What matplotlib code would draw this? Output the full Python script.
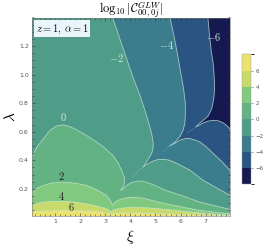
import matplotlib
matplotlib.use("Agg")
import matplotlib.pyplot as plt
from matplotlib.cm import ScalarMappable
from matplotlib.colors import BoundaryNorm, ListedColormap
from matplotlib.ticker import MultipleLocator

plt.rcParams["mathtext.fontset"] = "cm"
plt.rcParams["font.family"] = ["DejaVu Serif"]

# contour lines, (xi, lambda)
xi_m6 = [7.09, 7.15, 7.22, 7.30, 7.33, 7.35, 7.35, 7.33, 7.29, 7.24, 7.10, 6.97, 6.80, 6.61, 6.75, 6.90, 7.10, 7.30, 7.50, 7.70, 7.85, 7.97]
la_m6 = [1.40, 1.28, 1.17, 1.08, 1.016, 0.95, 0.89, 0.84, 0.80, 0.76, 0.71, 0.69, 0.665, 0.634, 0.645, 0.662, 0.675, 0.68, 0.677, 0.662, 0.642, 0.622]
xi_m4 = [5.58, 5.75, 5.90, 6.02, 6.12, 6.19, 6.19, 6.17, 6.10, 5.98, 5.80, 5.55, 5.78, 5.98, 6.18, 6.37, 6.60, 6.77, 7.05, 7.30, 7.65, 7.97]
la_m4 = [1.40, 1.26, 1.121, 1.00, 0.90, 0.80, 0.72, 0.657, 0.61, 0.568, 0.53, 0.499, 0.52, 0.541, 0.552, 0.552, 0.54, 0.529, 0.49, 0.448, 0.39, 0.33]
xi_m2 = [3.29, 3.70, 4.09, 4.35, 4.58, 4.70, 4.78, 4.86, 4.91, 4.90, 4.85, 4.72, 4.51, 4.68, 4.91, 5.10, 5.31, 5.50, 5.71, 6.00, 6.37, 6.89, 7.40, 7.97]
la_m2 = [1.40, 1.19, 0.988, 0.87, 0.75, 0.68, 0.631, 0.575, 0.52, 0.48, 0.45, 0.41, 0.354, 0.375, 0.395, 0.405, 0.406, 0.403, 0.39, 0.365, 0.331, 0.261, 0.21, 0.154]
xi_0 = [0.05, 0.15, 0.30, 0.53, 0.80, 1.05, 1.33, 1.60, 1.90, 2.26, 2.60, 2.95, 3.30, 3.50, 3.65, 3.76, 3.76, 3.70, 3.61, 3.72, 3.85, 4.05, 4.30, 4.50, 4.90, 5.40, 6.10, 6.76, 7.40, 7.97]
la_0 = [0.40, 0.45, 0.50, 0.55, 0.61, 0.64, 0.648, 0.635, 0.61, 0.573, 0.535, 0.49, 0.435, 0.385, 0.33, 0.28, 0.24, 0.21, 0.189, 0.20, 0.225, 0.245, 0.254, 0.254, 0.23, 0.19, 0.15, 0.107, 0.08, 0.056]
xi_2 = [0.05, 0.25, 0.53, 0.90, 1.33, 1.80, 2.26, 2.70, 3.05, 3.18, 3.28, 3.35, 3.45, 3.60, 3.85, 4.10, 4.50, 5.42, 6.76, 7.97]
la_2 = [0.165, 0.20, 0.224, 0.242, 0.247, 0.24, 0.224, 0.19, 0.154, 0.125, 0.088, 0.10, 0.115, 0.126, 0.138, 0.142, 0.135, 0.095, 0.049, 0.025]
xi_4 = [0.05, 0.25, 0.53, 0.90, 1.33, 1.80, 2.26, 2.70, 3.05, 3.15, 3.21, 3.30, 3.39, 3.70, 4.10, 4.70, 5.42, 6.10, 6.76, 7.97]
la_4 = [0.084, 0.097, 0.107, 0.112, 0.112, 0.107, 0.095, 0.078, 0.06, 0.05, 0.037, 0.05, 0.056, 0.066, 0.072, 0.067, 0.056, 0.043, 0.032, 0.015]
xi_6 = [0.05, 1.33, 2.66, 3.20, 3.40, 4.10, 5.42, 6.76, 7.97]
la_6 = [0.042, 0.049, 0.042, 0.025, 0.03, 0.032, 0.024, 0.016, 0.012]

levels = [-8, -6, -4, -2, 0, 2, 4, 6, 8]
band_colors = ["#141a50", "#2a5582", "#3b7d8c", "#4f9c88", "#62b284", "#80c97e", "#c9da6c", "#ece26e"]
cb_ticks = [-6, -4, -2, 0, 2, 4, 6]

# faint dotted bits going out of the cusps
spur_xi = [[4.51, 4.05], [5.55, 5.30], [6.61, 6.25]]
spur_la = [[0.354, 0.28], [0.499, 0.46], [0.634, 0.59]]

xmin, xmax = 0.06, 7.97
ymin, ymax = 0.01, 1.40

fig = plt.figure(figsize=(2.66, 2.47), dpi=100)
W, H = 266, 247
ax = fig.add_axes([31.5 / W, 1 - 216 / H, 198.5 / W, 198.5 / H])
ax.set_xlim(xmin, xmax)
ax.set_ylim(ymin, ymax)
ax.set_facecolor(band_colors[0])

line_c = (0.80, 0.90, 0.84, 0.75)
for i, (xs, ys) in enumerate([(xi_m6, la_m6), (xi_m4, la_m4), (xi_m2, la_m2)]):
    ax.fill(xs + [xmax + 1, xmin - 1, xmin - 1], ys + [ymin - 1, ymin - 1, ymax + 1],
            fc=band_colors[i + 1], ec=line_c, lw=0.6, joinstyle="round")
for i, (xs, ys) in enumerate([(xi_0, la_0), (xi_2, la_2), (xi_4, la_4), (xi_6, la_6)]):
    ax.fill([xmin - 1] + xs + [xmax + 1, xmax + 1, xmin - 1], [ys[0]] + ys + [ys[-1], ymin - 1, ymin - 1],
            fc=band_colors[i + 4], ec=line_c, lw=0.6, joinstyle="round")
for xs, ys in zip(spur_xi, spur_la):
    ax.plot(xs, ys, color=line_c, lw=0.5, ls=":", alpha=0.7)

ax.text(1.33, 0.70, "$0$", color="#d5ecd8", fontsize=7.5, ha="center", va="center")
ax.text(3.45, 1.115, "$-2$", color="#d5ecd8", fontsize=7.5, ha="center", va="center")
ax.text(5.45, 1.21, "$-4$", color="#d5ecd8", fontsize=7.5, ha="center", va="center")
ax.text(7.30, 1.265, "$-6$", color="#d5ecd8", fontsize=7.5, ha="center", va="center")
ax.text(1.25, 0.29, "$2$", color="#222222", fontsize=7.5, ha="center", va="center")
ax.text(1.25, 0.15, "$4$", color="#222222", fontsize=7.5, ha="center", va="center")
ax.text(1.65, 0.075, "$6$", color="#222222", fontsize=7.5, ha="center", va="center")

ax.text(0.22, 1.32, r"$z=1,\,\alpha=1$", fontsize=7.5, color="#111111", va="center", ha="left",
        bbox=dict(fc="#eaf5fb", ec="none", pad=1.3))

ax.set_title(r"$\log_{10}|\mathcal{C}^{GLW}_{00,0j}|$", fontsize=9, y=1.0, pad=3.5)
ax.set_xlabel(r"$\xi$", fontsize=11, labelpad=3)
ax.set_ylabel(r"$\lambda$", fontsize=11, labelpad=1)

ax.set_xticks([1, 2, 3, 4, 5, 6, 7])
ax.set_yticks([0.2, 0.4, 0.6, 0.8, 1.0, 1.2])
ax.xaxis.set_minor_locator(MultipleLocator(0.2))
ax.yaxis.set_minor_locator(MultipleLocator(0.05))
ax.tick_params(which="both", direction="in", top=True, right=True, color="#333333", width=0.4)
ax.tick_params(which="major", length=2.5, labelsize=4.5, labelcolor="#555555", pad=2)
ax.tick_params(which="minor", length=1.2)
for lab in ax.get_xticklabels() + ax.get_yticklabels():
    lab.set_family("DejaVu Sans")
for s in ax.spines.values():
    s.set_linewidth(0.4)
    s.set_color("#777777")

cax = fig.add_axes([242.3 / W, 1 - 184.3 / H, 9 / W, 130 / H])
sm = ScalarMappable(norm=BoundaryNorm(levels, len(band_colors)), cmap=ListedColormap(band_colors))
cb = fig.colorbar(sm, cax=cax, ticks=cb_ticks, spacing="proportional")
cb.ax.tick_params(length=1.5, width=0.4, color="#555555", labelsize=4, labelcolor="#555555", pad=1.5)
for lab in cb.ax.get_yticklabels():
    lab.set_family("DejaVu Sans")
cb.outline.set_linewidth(0.3)
cb.outline.set_edgecolor("#999999")
cb.dividers.set_color("#d0d8d8")
cb.dividers.set_linewidth(0.4)
cb.drawedges = True

fig.savefig("out.png", dpi=100)
